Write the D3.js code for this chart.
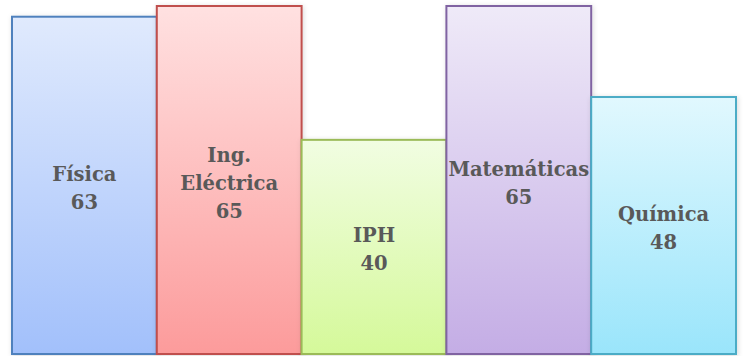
<!DOCTYPE html>
<html>
<head>
<meta charset="utf-8">
<script src="https://cdn.jsdelivr.net/npm/d3@7"></script>
<style>
  html, body { margin: 0; padding: 0; background: #fff; }
  svg { display: block; }
</style>
</head>
<body>
<svg id="chart" width="746" height="356"></svg>
<script>
// Careers and their counts
const categories = ["Física", "Ing. Eléctrica", "IPH", "Matemáticas", "Química"];
// Line breaks used for each label
const labelLines = [["Física"], ["Ing.", "Eléctrica"], ["IPH"], ["Matemáticas"], ["Química"]];
const values = [63, 65, 40, 65, 48];
const strokeColors = ["#4F81BD", "#C0504D", "#9BBB59", "#8064A2", "#4BACC6"];
const topColors = ["#e0eafd", "#ffe1e1", "#f1fde2", "#efeaf8", "#e1f8fe"];
const bottomColors = ["#a2c0fb", "#fc9b9b", "#d5f99a", "#c4ade5", "#9ae5fb"];

const svg = d3.select("#chart");
const W = 746, H = 356;
const margin = { left: 12, right: 10, top: 6, bottom: 2 };

const x = d3.scaleBand()
  .domain(categories)
  .range([margin.left, W - margin.right])
  .padding(0);

const y = d3.scaleLinear()
  .domain([0, d3.max(values)])
  .range([H - margin.bottom, margin.top]);

const defs = svg.append("defs");

categories.forEach((c, i) => {
  const g = defs.append("linearGradient")
    .attr("id", "grad" + i)
    .attr("x1", 0).attr("y1", 0).attr("x2", 0).attr("y2", 1);
  g.append("stop").attr("offset", "0%").attr("stop-color", topColors[i]);
  g.append("stop").attr("offset", "100%").attr("stop-color", bottomColors[i]);
});

const shadow = defs.append("filter").attr("id", "shadow")
  .attr("x", "-10%").attr("y", "-10%").attr("width", "120%").attr("height", "120%");
shadow.append("feDropShadow")
  .attr("dx", 1).attr("dy", 1).attr("stdDeviation", 2.5)
  .attr("flood-color", "#000").attr("flood-opacity", 0.15);

const data = categories.map((c, i) => ({ c, v: values[i], i }));

const bars = svg.append("g").selectAll("g.bar")
  .data(data)
  .join("g")
  .attr("class", "bar");

bars.append("rect")
  .attr("x", d => x(d.c))
  .attr("y", d => y(d.v))
  .attr("width", x.bandwidth())
  .attr("height", d => y(0) - y(d.v))
  .attr("fill", d => `url(#grad${d.i})`)
  .attr("stroke", d => strokeColors[d.i])
  .attr("stroke-width", 2)
  .attr("filter", "url(#shadow)");

const lineH = 28;
const labels = svg.append("g").selectAll("text")
  .data(data)
  .join("text")
  .attr("text-anchor", "middle")
  .attr("font-family", "'DejaVu Serif', 'Liberation Serif', serif")
  .attr("font-weight", "bold")
  .attr("font-size", 19.5)
  .attr("fill", "#595959");

labels.each(function (d) {
  const lines = labelLines[d.i].concat([String(d.v)]);
  const cx = x(d.c) + x.bandwidth() / 2;
  const cy = (y(d.v) + y(0)) / 2;
  const firstBaseline = cy - (lines.length - 1) * lineH / 2 + 9.5;
  d3.select(this).selectAll("tspan")
    .data(lines)
    .join("tspan")
    .attr("x", cx)
    .attr("y", (t, k) => firstBaseline + k * lineH)
    .text(t => t);
});
</script>
</body>
</html>
